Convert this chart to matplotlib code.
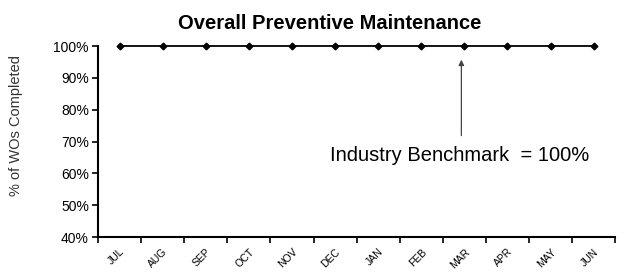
import numpy as np
import matplotlib.pyplot as plt
from matplotlib.ticker import FixedLocator, PercentFormatter

plt.rcParams["font.family"] = ["Liberation Sans", "DejaVu Sans"]

MONTHS = ["JUL", "AUG", "SEP", "OCT", "NOV", "DEC",
          "JAN", "FEB", "MAR", "APR", "MAY", "JUN"]
PM_COMPLETED = [100, 100, 100, 100, 100, 100, 100, 100, 100, 100, 100, 100]
BENCHMARK = 100

fig = plt.figure(figsize=(6.24, 2.76), dpi=100)
ax = fig.add_axes([0.157, 0.141, 0.829, 0.692])

x = np.arange(len(MONTHS))
ax.plot(x, PM_COMPLETED, color="black", linewidth=1.3,
        marker="D", markersize=3.4, clip_on=False, zorder=3)

ax.set_xlim(-0.5, len(MONTHS) - 0.5)
ax.set_ylim(40, 100)
ax.set_yticks(np.arange(40, 101, 10))
ax.yaxis.set_major_formatter(PercentFormatter(decimals=0))

ax.set_xticks(x)
ax.set_xticklabels(MONTHS, rotation=45, ha="right", rotation_mode="anchor",
                   fontsize=7.5)
ax.xaxis.set_minor_locator(FixedLocator(np.arange(-0.5, len(MONTHS), 1.0)))
ax.tick_params(axis="x", which="major", length=0, pad=7)
ax.tick_params(axis="x", which="minor", length=4, width=1.2, direction="out")
ax.tick_params(axis="y", length=4.5, width=1.2, direction="out", labelsize=10,
               pad=2)

for s in ["top", "right"]:
    ax.spines[s].set_visible(False)
for s in ["left", "bottom"]:
    ax.spines[s].set_linewidth(1.5)

ax.set_ylabel("% of WOs Completed", fontsize=10.5, color="#333333")
ax.yaxis.set_label_coords(-0.145, 0.586)

ax.set_title("Overall Preventive Maintenance", fontsize=14.5, fontweight="bold",
             x=0.447, pad=12)

ax.annotate("", xy=(7.93, 96.6), xytext=(7.93, 71),
            arrowprops=dict(arrowstyle="-|>", color="#444444", lw=0.9,
                            mutation_scale=8))
ax.text(7.9, 65.6, f"Industry Benchmark  = {BENCHMARK}%", fontsize=14.5,
        ha="center", va="center")

fig.savefig("out.png", dpi=100)
